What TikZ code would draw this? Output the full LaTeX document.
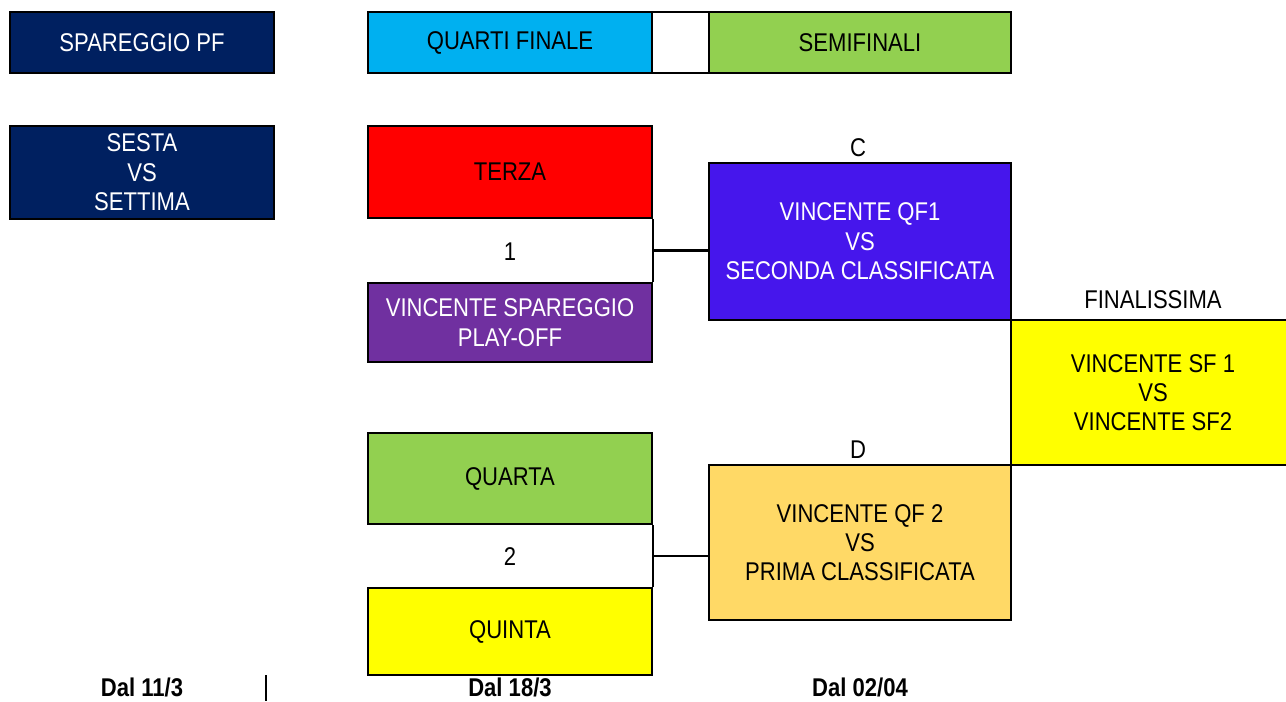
\documentclass[tikz,border=0pt]{standalone}
\usepackage{fontspec}
\setmainfont[FakeStretch=0.86]{Liberation Sans}
\usetikzlibrary{calc}
\definecolor{navy}{HTML}{002060}
\definecolor{qfblue}{HTML}{00B0F0}
\definecolor{sfgreen}{HTML}{92D050}
\definecolor{playpurple}{HTML}{7030A0}
\definecolor{semiviolet}{HTML}{4616EC}
\definecolor{qforange}{HTML}{FFD966}
\definecolor{finyellow}{HTML}{FFFF00}
\tikzset{
	box/.style 2 args={draw, line width=1.3pt, inner sep=0pt, align=center,
		minimum width=#1*0.02cm, minimum height=#2*0.02cm},
	lbl/.style={inner sep=0pt, align=center},
	datelbl/.style={lbl, font=\fontsize{14.6}{16.7}\selectfont\bfseries},
	link/.style={line width=1.3pt}
}

\begin{document}
\begin{tikzpicture}[x=0.02cm, y=-0.02cm, font=\fontsize{14.6}{16.7}\selectfont]
		%%%%% START %%%%%
		\clip (0, 0) rectangle (1286, 701);
		
		\node[box={264}{61}, fill=navy, text=white] (pf) at (142, 42.5) {SPAREGGIO PF};
		\node[box={264}{93}, fill=navy, text=white] (sestasettima) at (142, 172.5) {SESTA\\VS\\SETTIMA};
		
		\node[box={284}{61}, fill=qfblue] (quarti) at (510, 42.5) {QUARTI FINALE};
		\node[box={57}{61}, fill=white] (gap) at (680.5, 42.5) {};
		\node[box={302}{61}, fill=sfgreen] (semi) at (860, 42.5) {SEMIFINALI};
		
		\node[box={284}{92}, fill=red] (terza) at (510, 172) {TERZA};
		\node[box={284}{79}, fill=playpurple, text=white] (playoff) at (510, 322.5) {VINCENTE SPAREGGIO\\PLAY-OFF};
		\node[box={284}{91}, fill=sfgreen] (quarta) at (510, 478.5) {QUARTA};
		\node[box={284}{87}, fill=finyellow] (quinta) at (510, 631.5) {QUINTA};
		
		\node[box={302}{157}, fill=semiviolet, text=white] (sfone) at (860, 241.5) {VINCENTE QF1\\VS\\SECONDA CLASSIFICATA};
		\node[box={302}{155}, fill=qforange] (sftwo) at (860, 542.5) {VINCENTE QF 2\\VS\\PRIMA CLASSIFICATA};
		\node[box={284}{145}, fill=finyellow] (finale) at (1153, 392.5) {VINCENTE SF 1\\VS\\VINCENTE SF2};
		
		\node[lbl] (one) at (510, 252) {1};
		\node[lbl] (two) at (510, 557) {2};
		\node[lbl] (labc) at (858, 148) {C};
		\node[lbl] (labd) at (858, 450) {D};
		\node[lbl] (labfin) at (1153, 300) {FINALISSIMA};
		
		% brackets
		\draw[link] (terza.south east) -- (playoff.north east);
		\coordinate (qfonemid) at ($(terza.south east)!0.5!(playoff.north east)$);
		\draw[link] (qfonemid) -- (qfonemid -| sfone.west);
		\draw[link] (quarta.south east) -- (quinta.north east);
		\coordinate (qftwomid) at ($(quarta.south east)!0.5!(quinta.north east)$);
		\draw[link] (qftwomid) -- (qftwomid -| sftwo.west);
		
		% dates
		\node[datelbl] (dalone) at (142, 687) {Dal 11/3};
		\node[datelbl] (daltwo) at (510, 687) {Dal 18/3};
		\node[datelbl] (dalthree) at (860, 687) {Dal 02/04};
		\draw[line width=0.6pt] (266, 675) -- (266, 701);
		
		%%%%% END %%%%%
	\end{tikzpicture}
\end{document}
